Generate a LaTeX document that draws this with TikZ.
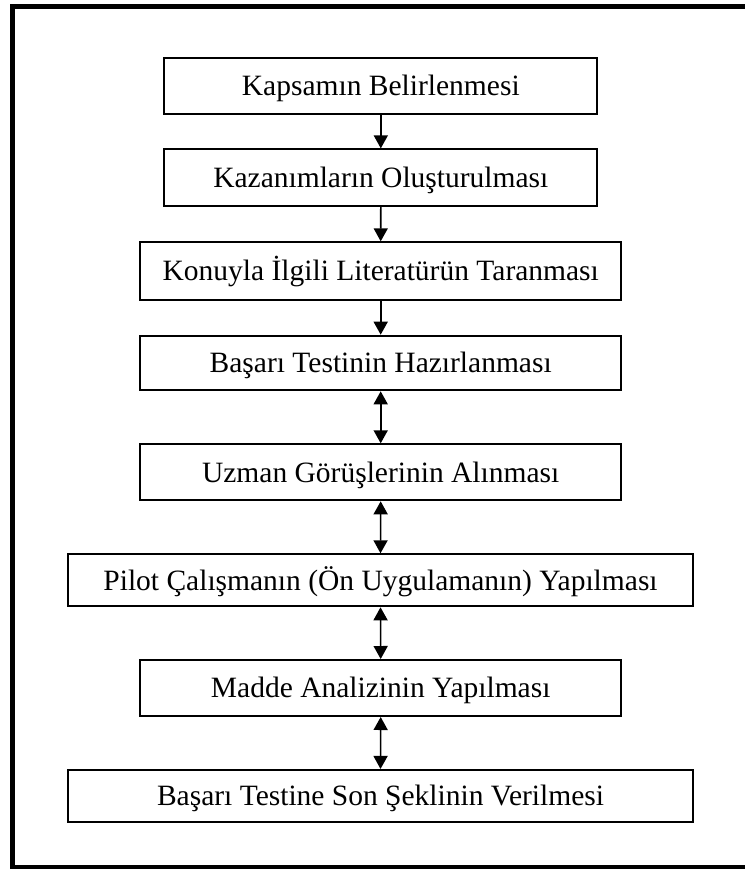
\documentclass[tikz,border=0pt]{standalone}
\usepackage{fontspec}
\setmainfont{Liberation Serif}
\usetikzlibrary{arrows.meta}
\tikzset{
  stepbox/.style={draw=black, line width=2pt, fill=white, inner sep=0pt,
    font=\fontsize{29.5}{33}\selectfont, text height=19.5pt, text depth=0pt},
  conn/.style={line width=1.6pt, -{Triangle[width=14pt,length=13pt]}},
  biconn/.style={line width=1.6pt, {Triangle[width=14pt,length=13pt]}-{Triangle[width=14pt,length=13pt]}},
  frame/.style={draw=black, line width=5.5pt}
}
\begin{document}
\begin{tikzpicture}[x=1pt,y=-1pt]
\useasboundingbox (0,0) rectangle (744,869);
\draw[frame] (12.5,6.3) rectangle (749,867.8);
\node[stepbox, minimum width=433pt, minimum height=55.4pt] (b1) at (380.8,86) {Kapsamın Belirlenmesi};
\node[stepbox, minimum width=433pt, minimum height=56.7pt] (b2) at (380.8,177.7) {Kazanımların Oluşturulması};
\node[stepbox, minimum width=480.7pt, minimum height=57.4pt] (b3) at (380.7,271) {Konuyla İlgili Literatürün Taranması};
\node[stepbox, minimum width=480.7pt, minimum height=54.6pt] (b4) at (380.7,363) {Başarı Testinin Hazırlanması};
\node[stepbox, minimum width=480.7pt, minimum height=56pt] (b5) at (380.7,472.3) {Uzman Görüşlerinin Alınması};
\node[stepbox, minimum width=625pt, minimum height=52pt] (b6) at (380.5,580.3) {Pilot Çalışmanın (Ön Uygulamanın) Yapılması};
\node[stepbox, minimum width=480.7pt, minimum height=56pt] (b7) at (380.7,688) {Madde Analizinin Yapılması};
\node[stepbox, minimum width=625pt, minimum height=51.7pt] (b8) at (380.5,795.8) {Başarı Testine Son Şeklinin Verilmesi};
\draw[conn] (b1.south) -- (b2.north);
\draw[conn] (b2.south) -- (b3.north);
\draw[conn] (b3.south) -- (b4.north);
\draw[biconn] (b4.south) -- (b5.north);
\draw[biconn] (b5.south) -- (b6.north);
\draw[biconn] (b6.south) -- (b7.north);
\draw[biconn] (b7.south) -- (b8.north);
\end{tikzpicture}
\end{document}
